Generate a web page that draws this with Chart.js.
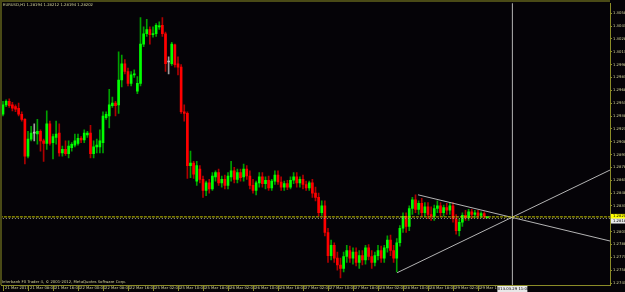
<!DOCTYPE html>
<html>
<head>
<meta charset="utf-8">
<script src="https://cdn.jsdelivr.net/npm/chart.js@4.4.1/dist/chart.umd.min.js"></script>
<style>
html, body { margin: 0; padding: 0; background: #050307; }
canvas { display: block; }
</style>
</head>
<body>
<canvas id="chart" width="625" height="292"></canvas>
<script>
const symbolTitle = "EURUSD,H1 1.28194 1.28212 1.28194 1.28202";
const copyright = "Interbank FX Trader 4, \u00a9 2001-2012, MetaQuotes Software Corp.";

// one x label every 8 bars
const timeLabels = ["21 Mar 2013", "21 Mar 08:00", "21 Mar 16:00", "22 Mar 00:00", "22 Mar 08:00",
    "22 Mar 16:00", "25 Mar 02:00", "25 Mar 10:00", "25 Mar 18:00", "26 Mar 02:00", "26 Mar 10:00",
    "26 Mar 18:00", "27 Mar 02:00", "27 Mar 10:00", "27 Mar 18:00", "28 Mar 02:00", "28 Mar 10:00",
    "28 Mar 18:00", "29 Mar 02:00", "29 Mar 10:00"];

const priceTicks = [1.27430, 1.27580, 1.27730, 1.27880, 1.28030, 1.28180, 1.28330, 1.28480, 1.28630,
    1.28780, 1.28930, 1.29080, 1.29230, 1.29380, 1.29530, 1.29680, 1.29830, 1.29980, 1.30130, 1.30280,
    1.30430, 1.30580];

const open = [
    1.2940, 1.2951, 1.2955, 1.2951, 1.2949, 1.2947, 1.2940, 1.2934, 1.2891, 1.2911,
    1.2918, 1.2917, 1.2920, 1.2909, 1.2906, 1.2929, 1.2907, 1.2913, 1.2918, 1.2895,
    1.2899, 1.2894, 1.2901, 1.2904, 1.2906, 1.2912, 1.2910, 1.2916, 1.2918, 1.2894,
    1.2902, 1.2902, 1.2907, 1.2936, 1.2938, 1.2950, 1.2953, 1.2951, 1.2980, 1.2999,
    1.2990, 1.2976, 1.2986, 1.2967, 1.2976, 1.3022, 1.3034, 1.3039, 1.3033, 1.3034,
    1.3042, 1.3044, 1.3034, 1.3001, 1.2999, 1.3021, 1.2999, 1.2995, 1.2943, 1.2941,
    1.2880, 1.2883, 1.2862, 1.2876, 1.2864, 1.2851, 1.2860, 1.2853, 1.2867, 1.2872,
    1.2860, 1.2864, 1.2857, 1.2867, 1.2874, 1.2864, 1.2872, 1.2867, 1.2876, 1.2868,
    1.2857, 1.2851, 1.2860, 1.2867, 1.2859, 1.2863, 1.2854, 1.2862, 1.2869, 1.2861,
    1.2855, 1.2859, 1.2855, 1.2863, 1.2867, 1.2860, 1.2864, 1.2858, 1.2854, 1.2860,
    1.2848, 1.2843, 1.2825, 1.2833, 1.2802, 1.2775, 1.2787, 1.2772, 1.2764, 1.2760,
    1.2774, 1.2781, 1.2772, 1.2779, 1.2767, 1.2775, 1.2770, 1.2784, 1.2774, 1.2767,
    1.2775, 1.2781, 1.2772, 1.2784, 1.2793, 1.2781, 1.2772, 1.2790, 1.2807, 1.2821,
    1.2809, 1.2830, 1.2840, 1.2829, 1.2836, 1.2825, 1.2832, 1.2823, 1.2821, 1.2830,
    1.2833, 1.2825, 1.2831, 1.2828, 1.2833, 1.2818, 1.2804, 1.2814, 1.2822, 1.2819,
    1.2826, 1.2823, 1.2825, 1.2822, 1.2824, 1.2819];
const high = [
    1.2955, 1.2957, 1.2958, 1.2954, 1.2951, 1.2953, 1.2943, 1.2935, 1.2920, 1.2926,
    1.2929, 1.2934, 1.2922, 1.2911, 1.2944, 1.2932, 1.2917, 1.2932, 1.2929, 1.2903,
    1.2909, 1.2909, 1.2907, 1.2917, 1.2917, 1.2914, 1.2922, 1.2920, 1.2927, 1.2909,
    1.2911, 1.2922, 1.2943, 1.2943, 1.2969, 1.2960, 1.2955, 1.3013, 1.3009, 1.3004,
    1.2994, 1.2990, 1.2992, 1.2984, 1.3053, 1.3042, 1.3051, 1.3042, 1.3042, 1.3046,
    1.3048, 1.3053, 1.3036, 1.3007, 1.3024, 1.3022, 1.3007, 1.2998, 1.2951, 1.2943,
    1.2897, 1.2885, 1.2885, 1.2880, 1.2868, 1.2862, 1.2864, 1.2872, 1.2874, 1.2876,
    1.2868, 1.2869, 1.2872, 1.2885, 1.2878, 1.2876, 1.2876, 1.2882, 1.2880, 1.2874,
    1.2864, 1.2862, 1.2872, 1.2872, 1.2867, 1.2868, 1.2864, 1.2874, 1.2874, 1.2867,
    1.2862, 1.2863, 1.2867, 1.2872, 1.2872, 1.2867, 1.2869, 1.2862, 1.2862, 1.2864,
    1.2855, 1.2848, 1.2839, 1.2839, 1.2807, 1.2793, 1.2790, 1.2779, 1.2772, 1.2779,
    1.2787, 1.2786, 1.2784, 1.2784, 1.2781, 1.2781, 1.2787, 1.2788, 1.2781, 1.2779,
    1.2787, 1.2786, 1.2787, 1.2798, 1.2799, 1.2787, 1.2795, 1.2810, 1.2825, 1.2825,
    1.2833, 1.2843, 1.2846, 1.2839, 1.2842, 1.2837, 1.2837, 1.2832, 1.2834, 1.2839,
    1.2837, 1.2834, 1.2836, 1.2837, 1.2837, 1.2823, 1.2818, 1.2825, 1.2828, 1.2829,
    1.2829, 1.2828, 1.2828, 1.2826, 1.2826, 1.2821];
const low = [
    1.2938, 1.2949, 1.2948, 1.2944, 1.2943, 1.2938, 1.2932, 1.2882, 1.2889, 1.2909,
    1.2909, 1.2905, 1.2897, 1.2885, 1.2899, 1.2904, 1.2888, 1.2905, 1.2891, 1.2891,
    1.2892, 1.2889, 1.2897, 1.2902, 1.2904, 1.2907, 1.2907, 1.2913, 1.2889, 1.2889,
    1.2895, 1.2895, 1.2895, 1.2934, 1.2924, 1.2948, 1.2938, 1.2941, 1.2972, 1.2987,
    1.2973, 1.2973, 1.2983, 1.2964, 1.2973, 1.3019, 1.3031, 1.3022, 1.3030, 1.3031,
    1.3039, 1.3031, 1.2990, 1.2987, 1.2997, 1.2995, 1.2986, 1.2941, 1.2932, 1.2865,
    1.2866, 1.2865, 1.2857, 1.2860, 1.2843, 1.2845, 1.2848, 1.2851, 1.2862, 1.2857,
    1.2855, 1.2853, 1.2853, 1.2862, 1.2860, 1.2860, 1.2862, 1.2862, 1.2864, 1.2853,
    1.2848, 1.2846, 1.2855, 1.2855, 1.2853, 1.2851, 1.2851, 1.2858, 1.2858, 1.2851,
    1.2851, 1.2852, 1.2853, 1.2859, 1.2855, 1.2855, 1.2853, 1.2851, 1.2851, 1.2843,
    1.2839, 1.2821, 1.2822, 1.2798, 1.2767, 1.2770, 1.2767, 1.2758, 1.2749, 1.2756,
    1.2767, 1.2767, 1.2765, 1.2763, 1.2760, 1.2764, 1.2765, 1.2770, 1.2760, 1.2763,
    1.2770, 1.2767, 1.2767, 1.2779, 1.2775, 1.2767, 1.2756, 1.2786, 1.2802, 1.2802,
    1.2804, 1.2823, 1.2825, 1.2823, 1.2821, 1.2821, 1.2818, 1.2816, 1.2816, 1.2825,
    1.2821, 1.2821, 1.2823, 1.2823, 1.2814, 1.2800, 1.2798, 1.2809, 1.2816, 1.2816,
    1.2818, 1.2819, 1.2818, 1.2819, 1.2818, 1.2819];
const close = [
    1.2951, 1.2955, 1.2950, 1.2947, 1.2946, 1.2940, 1.2934, 1.2891, 1.2911, 1.2918,
    1.2918, 1.2920, 1.2909, 1.2906, 1.2929, 1.2906, 1.2914, 1.2917, 1.2895, 1.2899,
    1.2894, 1.2903, 1.2905, 1.2909, 1.2912, 1.2910, 1.2918, 1.2918, 1.2894, 1.2902,
    1.2904, 1.2909, 1.2938, 1.2940, 1.2951, 1.2953, 1.2950, 1.2980, 1.2999, 1.2990,
    1.2976, 1.2986, 1.2987, 1.2976, 1.3022, 1.3034, 1.3039, 1.3033, 1.3034, 1.3044,
    1.3043, 1.3034, 1.2999, 1.3001, 1.3022, 1.2998, 1.2995, 1.2943, 1.2941, 1.2880,
    1.2883, 1.2870, 1.2880, 1.2864, 1.2851, 1.2860, 1.2853, 1.2868, 1.2872, 1.2860,
    1.2864, 1.2857, 1.2868, 1.2874, 1.2864, 1.2872, 1.2866, 1.2876, 1.2868, 1.2857,
    1.2851, 1.2860, 1.2867, 1.2859, 1.2863, 1.2854, 1.2862, 1.2869, 1.2861, 1.2855,
    1.2859, 1.2855, 1.2863, 1.2867, 1.2860, 1.2864, 1.2858, 1.2854, 1.2860, 1.2848,
    1.2843, 1.2825, 1.2833, 1.2802, 1.2775, 1.2787, 1.2772, 1.2764, 1.2760, 1.2774,
    1.2781, 1.2772, 1.2779, 1.2767, 1.2775, 1.2770, 1.2784, 1.2774, 1.2767, 1.2775,
    1.2781, 1.2772, 1.2784, 1.2793, 1.2781, 1.2772, 1.2790, 1.2807, 1.2821, 1.2809,
    1.2830, 1.2840, 1.2829, 1.2836, 1.2825, 1.2832, 1.2823, 1.2821, 1.2830, 1.2833,
    1.2825, 1.2831, 1.2828, 1.2833, 1.2818, 1.2804, 1.2814, 1.2822, 1.2819, 1.2826,
    1.2823, 1.2825, 1.2822, 1.2824, 1.2821, 1.2820];

// objects drawn on the chart: [bar, price]
const lowerTrend = [[126.1, 1.2755], [194.3, 1.2875]];
const upperTrend = [[132.8, 1.2846], [194.3, 1.2792]];
const bidPrice = 1.28202;
const crossPrice = 1.28183;
const crossBar = 163;
const crossLabel = "2013.03.29 11:00";

const bgColor = "#050307";
const axisColor = "#8c8c28";
const textColor = "#d4d49a";
const lineGray = "#b4b4b4";
const font = "3.8px 'DejaVu Sans', sans-serif";

function candleKind(i) {
    if (close[i] > open[i]) return "up";
    if (close[i] < open[i]) return "down";
    return "doji";
}
const bodyColors = { up: "#00ff00", down: "#ff0000", doji: "#c0c0c0" };
const wickColors = { up: "#00a000", down: "#b00000", doji: "#a0a0a0" };

const mt4Frame = {
    id: "mt4Frame",
    beforeDraw(chart) {
        const c = chart.ctx;
        c.save();
        c.fillStyle = bgColor;
        c.fillRect(0, 0, chart.width, chart.height);
        c.restore();
    },
    afterDraw(chart) {
        const c = chart.ctx;
        const a = chart.chartArea;
        const x = chart.scales.x, y = chart.scales.y;
        c.save();
        c.fillStyle = "#4a4a16";
        c.fillRect(0, 0, a.right, 2);
        c.fillRect(0, 0, 2, a.bottom);

        // little marks under the time labels
        c.strokeStyle = axisColor;
        c.lineWidth = 1;
        x.ticks.forEach(t => {
            const px = Math.round(x.getPixelForValue(t.value)) + 0.5;
            c.beginPath();
            c.moveTo(px, a.bottom);
            c.lineTo(px, a.bottom + 6);
            c.stroke();
        });

        c.font = font;
        c.fillStyle = textColor;
        c.textBaseline = "top";
        c.fillText(symbolTitle, 3, 3);
        c.fillText(copyright, 2, 280);

        // price boxes on the right axis
        const by = y.getPixelForValue(bidPrice);
        c.fillStyle = "#ffff00";
        c.fillRect(a.right + 1, by - 3, 14, 5);
        const cy = y.getPixelForValue(crossPrice);
        c.fillStyle = "#e8e8e8";
        c.fillRect(a.right + 1, cy, 14, 5);
        c.fillStyle = "#000000";
        c.textBaseline = "middle";
        c.fillText(bidPrice.toFixed(5), a.right + 3, by - 0.5);
        c.fillText(crossPrice.toFixed(5), a.right + 3, cy + 2.5);

        // date box of the vertical line
        const cx = x.getPixelForValue(crossBar);
        c.fillStyle = "#e8e8e8";
        c.fillRect(cx - 15, a.bottom + 1, 30, 6);
        c.fillStyle = "#000000";
        c.textAlign = "center";
        c.fillText(crossLabel, cx, a.bottom + 4);
        c.restore();
    }
};

const bars = open.map((o, i) => i);

new Chart(document.getElementById("chart"), {
    type: "bar",
    data: {
        datasets: [
            {
                label: "wick",
                data: bars.map(i => ({ x: i, y: [low[i], high[i]] })),
                backgroundColor: ctx => wickColors[candleKind(ctx.dataIndex)],
                barThickness: 1,
                grouped: false,
                order: 3
            },
            {
                label: "body",
                data: bars.map(i => ({ x: i, y: [open[i], close[i]] })),
                backgroundColor: ctx => bodyColors[candleKind(ctx.dataIndex)],
                barThickness: 2,
                minBarLength: 1,
                grouped: false,
                order: 2
            },
            {
                type: "line",
                label: "bid",
                data: [{ x: -1, y: bidPrice }, { x: 196, y: bidPrice }],
                borderColor: "#c8c800",
                borderWidth: 1,
                borderDash: [3, 1],
                pointRadius: 0,
                order: 1
            },
            {
                type: "line",
                label: "cross h",
                data: [{ x: -1, y: crossPrice }, { x: 196, y: crossPrice }],
                borderColor: "#9a9a9a",
                borderWidth: 1,
                borderDash: [1, 2],
                pointRadius: 0,
                order: 1
            },
            {
                type: "line",
                label: "cross v",
                data: [{ x: crossBar, y: 1.2740 }, { x: crossBar, y: 1.3070 }],
                borderColor: lineGray,
                borderWidth: 1,
                pointRadius: 0,
                order: 1
            },
            {
                type: "line",
                label: "lower trend",
                data: lowerTrend.map(p => ({ x: p[0], y: p[1] })),
                borderColor: lineGray,
                borderWidth: 1,
                pointRadius: 0,
                order: 1
            },
            {
                type: "line",
                label: "upper trend",
                data: upperTrend.map(p => ({ x: p[0], y: p[1] })),
                borderColor: lineGray,
                borderWidth: 1,
                pointRadius: 0,
                order: 1
            }
        ]
    },
    options: {
        responsive: false,
        animation: false,
        layout: { padding: { left: 1, top: 1, right: 0, bottom: 0 } },
        plugins: {
            legend: { display: false },
            tooltip: { enabled: false }
        },
        scales: {
            x: {
                type: "linear",
                min: -0.64,
                max: 194.24,
                offset: false,
                afterBuildTicks: s => { s.ticks = timeLabels.map((t, k) => ({ value: k * 8 })); },
                afterFit: s => { s.height = 7; },
                grid: { display: true, drawOnChartArea: false, drawTicks: false },
                border: { color: axisColor },
                ticks: {
                    autoSkip: false,
                    maxRotation: 0,
                    align: "start",
                    labelOffset: 2,
                    padding: 1,
                    color: textColor,
                    font: { size: 3.8, family: "'DejaVu Sans', sans-serif" },
                    callback: v => timeLabels[Math.round(v / 8)]
                }
            },
            y: {
                position: "right",
                min: 1.27407,
                max: 1.30696,
                afterBuildTicks: s => { s.ticks = priceTicks.map(v => ({ value: v })); },
                afterFit: s => { s.width = 15; },
                grid: { drawOnChartArea: false, tickLength: 2, color: axisColor },
                border: { color: axisColor },
                ticks: {
                    padding: 1,
                    color: textColor,
                    font: { size: 3.8, family: "'DejaVu Sans', sans-serif" },
                    callback: v => v.toFixed(5)
                }
            }
        }
    },
    plugins: [mt4Frame]
});
</script>
</body>
</html>
